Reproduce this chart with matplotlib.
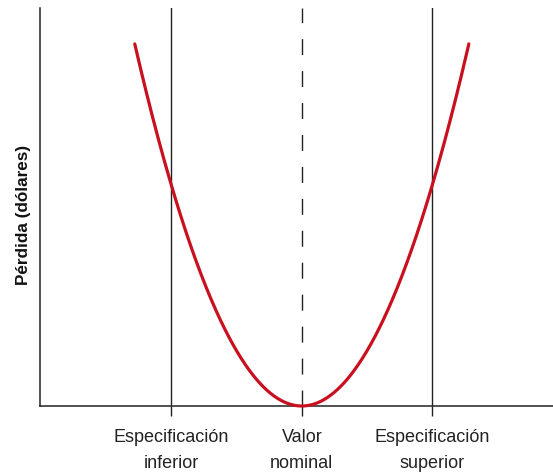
import numpy as np
import matplotlib
matplotlib.use("Agg")
import matplotlib.pyplot as plt

# --- data ---
tick_positions = [-1.0, 0.0, 1.0]
tick_labels = ["Especificación\ninferior", "Valor\nnominal", "Especificación\nsuperior"]
spec_limits = [-1.0, 1.0]
nominal = 0.0
loss_k = 1.0            # quadratic loss coefficient
curve_x_range = [-1.28, 1.28]
y_label = "Pérdida (dólares)"

plt.rcParams["font.family"] = ["Liberation Sans", "DejaVu Sans"]

W, H = 553, 475
fig = plt.figure(figsize=(W / 100, H / 100), dpi=100)
ax = fig.add_axes([40 / W, 1 - 406 / H, 513 / W, 398 / H])

cx, unit_x, unit_y = 301.8, 130.5, 221.0
ax.set_xlim((40 - cx) / unit_x, (553 - cx) / unit_x)
ax.set_ylim(0, 398 / unit_y)

xs = np.linspace(curve_x_range[0], curve_x_range[1], 400)
ys = loss_k * (xs - nominal) ** 2

line_col = "#222222"
for s in spec_limits:
    ax.axvline(s, color=line_col, lw=1.0, zorder=1)
ax.axvline(nominal, color=line_col, lw=1.0, linestyle=(0, (11.5, 11.5)), zorder=1)

ax.plot(xs, ys, color="#c8101e", lw=2.3, solid_capstyle="round", zorder=3, clip_on=False)

for sp in ["top", "right"]:
    ax.spines[sp].set_visible(False)
for sp in ["left", "bottom"]:
    ax.spines[sp].set_color(line_col)
    ax.spines[sp].set_linewidth(1.1)

ax.set_yticks([])
ax.set_xticks(tick_positions)
ax.set_xticklabels(tick_labels, fontsize=13, color="#222222", linespacing=1.7)
ax.tick_params(axis="x", direction="out", length=7.5, width=1.0, color=line_col, pad=9)

ax.set_ylabel(y_label, fontsize=12.3, fontweight="bold", color="#111111")
ax.yaxis.set_label_coords(-0.017, (406 - 215) / 398)

fig.savefig("out.png", dpi=100)
